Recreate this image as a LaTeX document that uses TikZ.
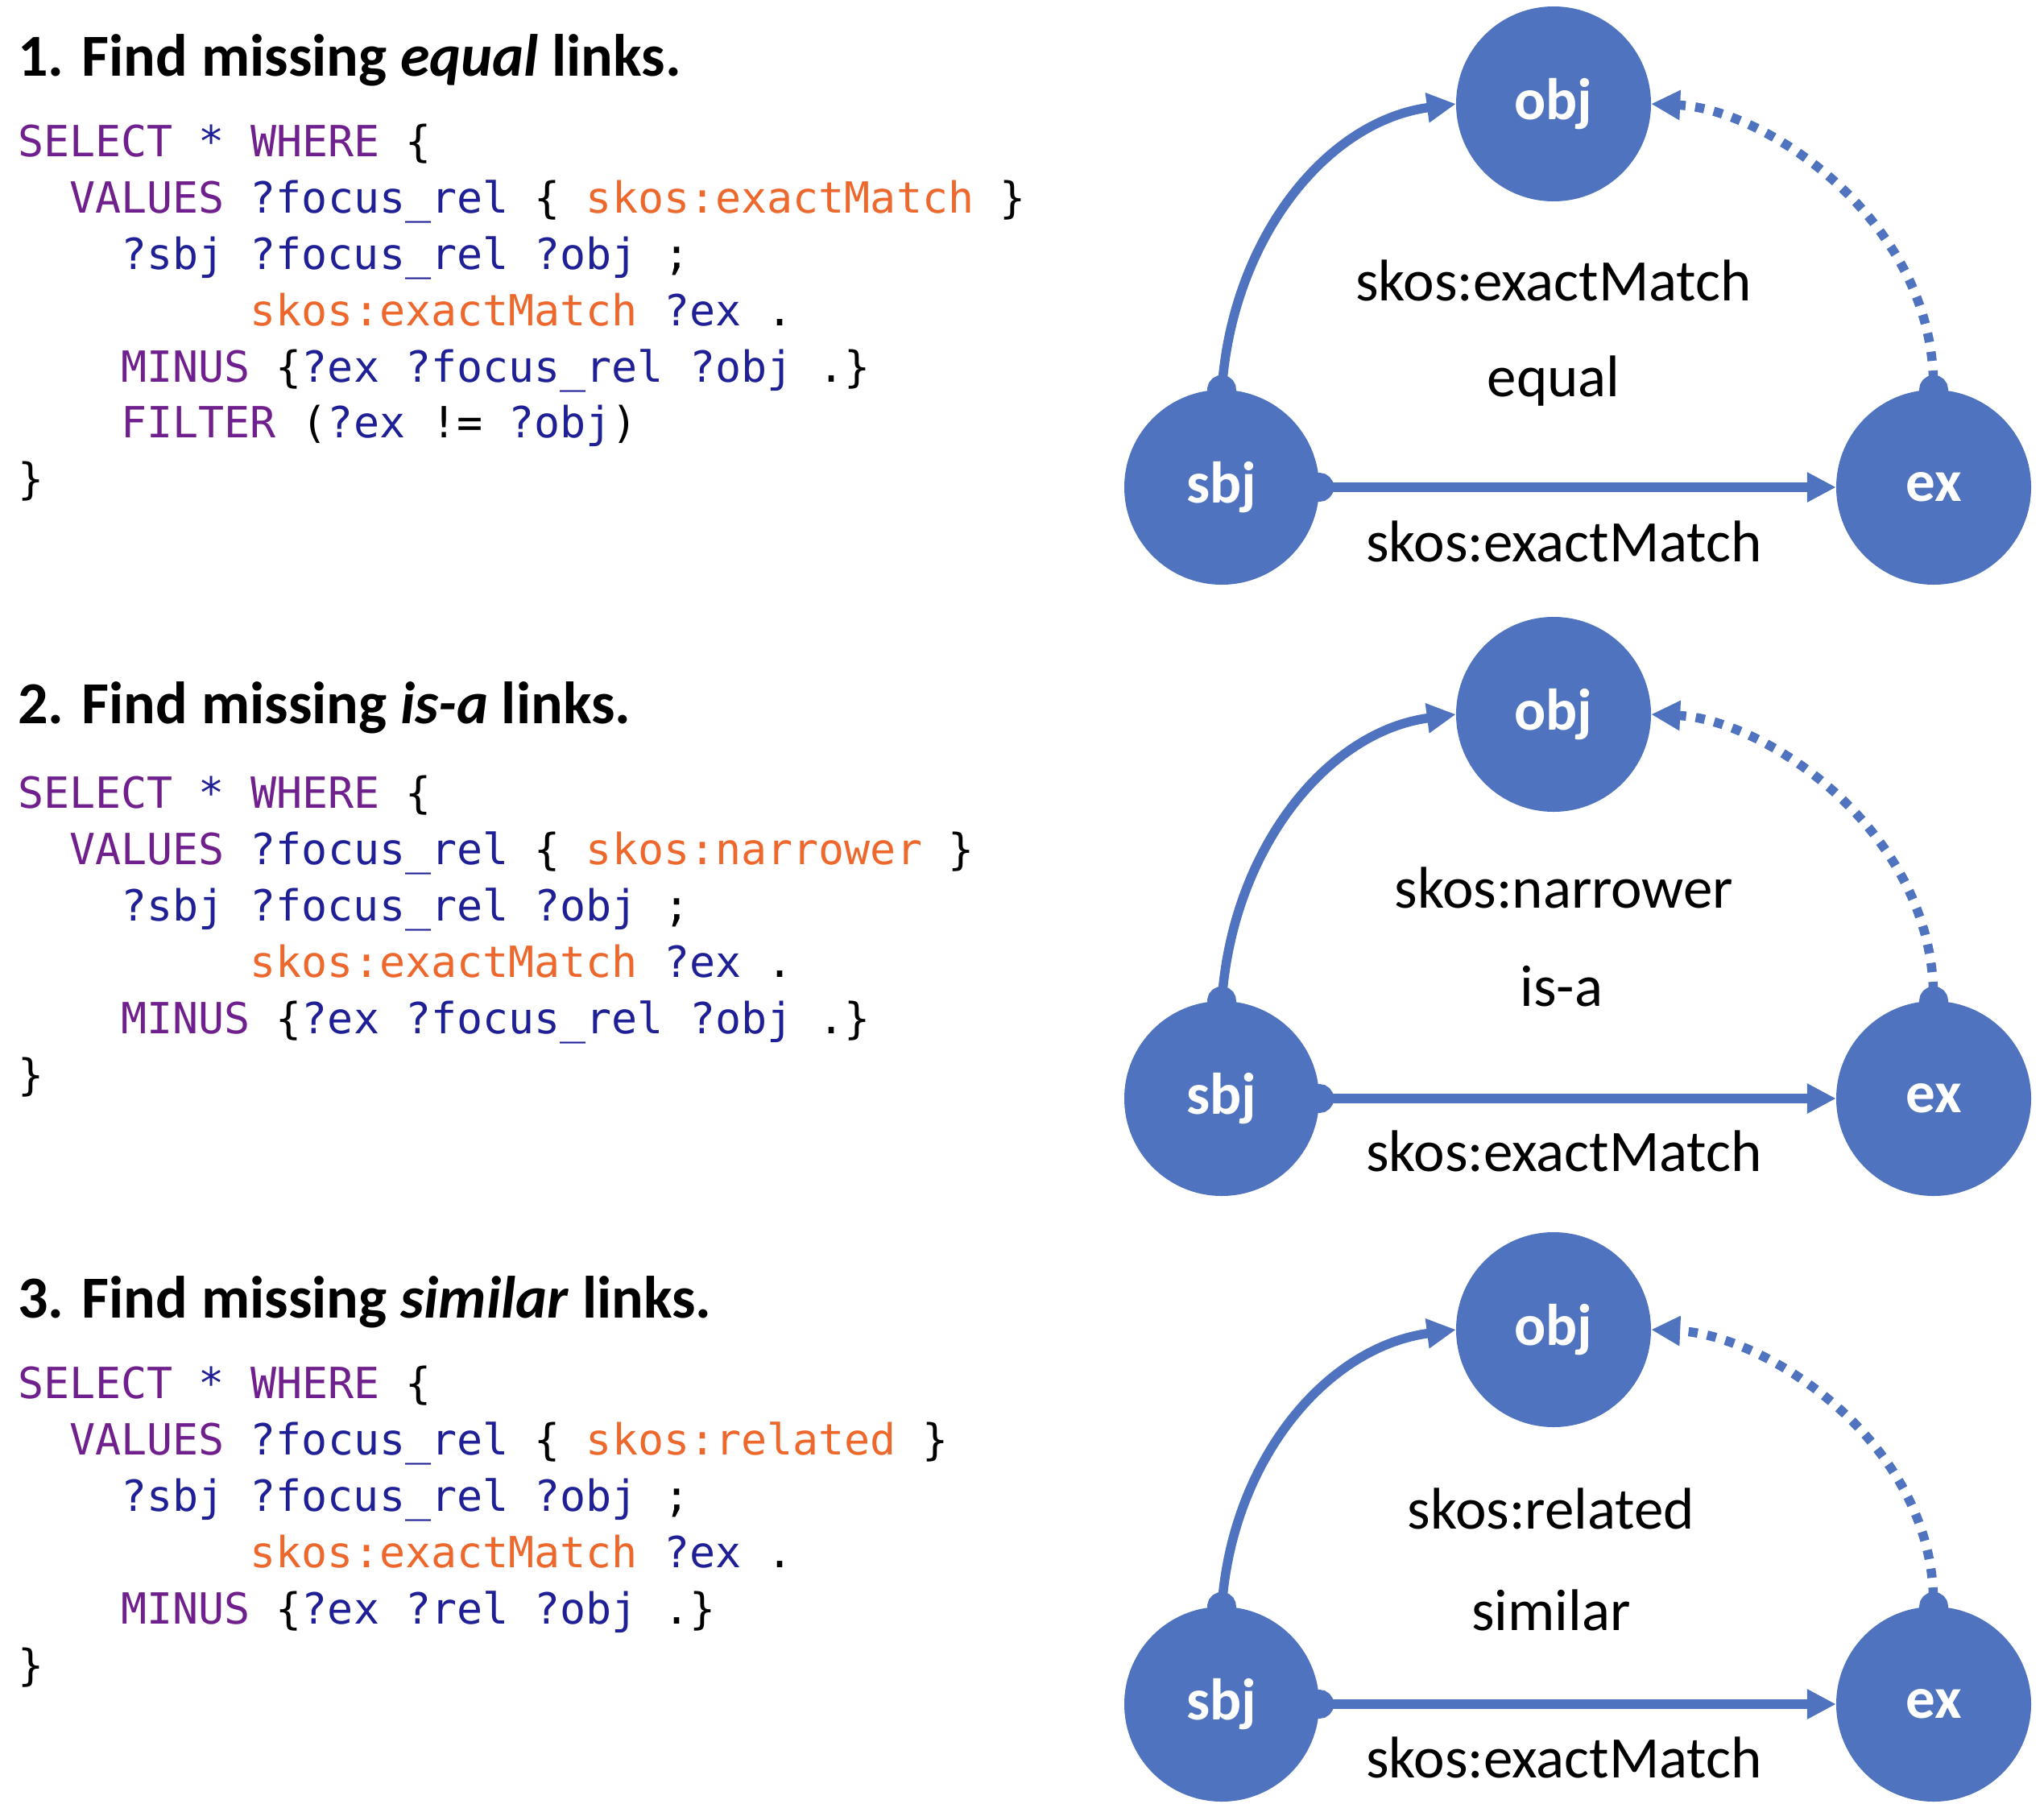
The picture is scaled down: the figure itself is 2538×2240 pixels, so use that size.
\documentclass[tikz,border=0pt]{standalone}
\usepackage{fontspec}
\setmainfont{Carlito}
\newfontfamily\codefont{DejaVu Sans Mono}
\usetikzlibrary{arrows.meta}

\definecolor{nodeblue}{RGB}{79,115,190}
\definecolor{kwpurple}{RGB}{112,32,140}
\definecolor{varnavy}{RGB}{32,32,150}
\definecolor{skosorange}{RGB}{237,104,45}

% SPARQL token colouring
\newcommand{\cKw}[1]{\textcolor{kwpurple}{#1}}
\newcommand{\cVar}[1]{\textcolor{varnavy}{#1}}
\newcommand{\cSk}[1]{\textcolor{skosorange}{#1}}

\tikzset{
  head/.style={anchor=base west, inner sep=0pt, font=\fontsize{74}{80}\selectfont\bfseries},
  codeline/.style={anchor=base west, inner sep=0pt, font=\codefont\fontsize{53.3}{60}\selectfont},
  ent/.style={circle, fill=nodeblue, minimum size=242pt, inner sep=0pt, text=white,
              font=\fontsize{73}{73}\selectfont\bfseries},
  lbl/.style={inner sep=0pt, text=black, font=\fontsize{73}{80}\selectfont},
  link/.style={draw=nodeblue, line width=11.5pt, shorten <=-18pt,
               {Circle[length=36pt]}-{Triangle[length=36pt,width=35pt]}},
  inferred/.style={link, dash pattern=on 11.5pt off 12pt}
}

\begin{document}
\begin{tikzpicture}[x=1pt,y=-1pt]
\useasboundingbox (0,0) rectangle (2538,2240);

% ---------- query 1 ----------
\node[head] (h1) at (22,95) {1. Find missing \textit{equal} links.};
\node[codeline] (q1a) at (22,194)   {\cKw{SELECT} \cVar{*} \cKw{WHERE} \{};
\node[codeline] (q1b) at (86,264)   {\cKw{VALUES} \cVar{?focus\_rel} \{ \cSk{skos:exactMatch} \}};
\node[codeline] (q1c) at (150,334)  {\cVar{?sbj} \cVar{?focus\_rel} \cVar{?obj} ;};
\node[codeline] (q1d) at (310.5,404) {\cSk{skos:exactMatch} \cVar{?ex} .};
\node[codeline] (q1e) at (150,474)  {\cKw{MINUS} \{\cVar{?ex} \cVar{?focus\_rel} \cVar{?obj} .\}};
\node[codeline] (q1f) at (150,543)  {\cKw{FILTER} (\cVar{?ex} != \cVar{?obj})};
\node[codeline] (q1g) at (22,613)   {\}};

% ---------- query 2 ----------
\node[head] (h2) at (22,898) {2. Find missing \textit{is-a} links.};
\node[codeline] (q2a) at (22,1003)   {\cKw{SELECT} \cVar{*} \cKw{WHERE} \{};
\node[codeline] (q2b) at (86,1073)   {\cKw{VALUES} \cVar{?focus\_rel} \{ \cSk{skos:narrower} \}};
\node[codeline] (q2c) at (150,1143)  {\cVar{?sbj} \cVar{?focus\_rel} \cVar{?obj} ;};
\node[codeline] (q2d) at (310.5,1213) {\cSk{skos:exactMatch} \cVar{?ex} .};
\node[codeline] (q2e) at (150,1283)  {\cKw{MINUS} \{\cVar{?ex} \cVar{?focus\_rel} \cVar{?obj} .\}};
\node[codeline] (q2f) at (22,1353)   {\}};

% ---------- query 3 ----------
\node[head] (h3) at (22,1636) {3. Find missing \textit{similar} links.};
\node[codeline] (q3a) at (22,1736)   {\cKw{SELECT} \cVar{*} \cKw{WHERE} \{};
\node[codeline] (q3b) at (86,1806)   {\cKw{VALUES} \cVar{?focus\_rel} \{ \cSk{skos:related} \}};
\node[codeline] (q3c) at (150,1876)  {\cVar{?sbj} \cVar{?focus\_rel} \cVar{?obj} ;};
\node[codeline] (q3d) at (310.5,1946) {\cSk{skos:exactMatch} \cVar{?ex} .};
\node[codeline] (q3e) at (150,2016)  {\cKw{MINUS} \{\cVar{?ex} \cVar{?rel} \cVar{?obj} .\}};
\node[codeline] (q3f) at (22,2086)   {\}};

% ---------- graph 1 ----------
\node[ent] (obj1) at (1929,129) {obj};
\node[ent] (sbj1) at (1517,605) {sbj};
\node[ent] (ex1)  at (2401,605) {ex};
\node[lbl] (r1)  at (1929,348) {skos:exactMatch};
\node[lbl] (k1)  at (1929,473) {equal};
\node[lbl] (m1)  at (1942,672) {skos:exactMatch};
\draw[link] (sbj1.east) -- (ex1.west);
\draw[link] (sbj1.north) .. controls +(18,-194) and +(-158,21) .. (obj1.west);
\draw[inferred] (ex1.north) .. controls +(-6,-214) and +(140,6) .. (obj1.east);

% ---------- graph 2 ----------
\node[ent] (obj2) at (1929,887) {obj};
\node[ent] (sbj2) at (1517,1364) {sbj};
\node[ent] (ex2)  at (2401,1364) {ex};
\node[lbl] (r2)  at (1942,1102) {skos:narrower};
\node[lbl] (k2)  at (1939,1225) {is-a};
\node[lbl] (m2)  at (1942,1429) {skos:exactMatch};
\draw[link] (sbj2.east) -- (ex2.west);
\draw[link] (sbj2.north) .. controls +(18,-194) and +(-158,21) .. (obj2.west);
\draw[inferred] (ex2.north) .. controls +(-6,-214) and +(140,6) .. (obj2.east);

% ---------- graph 3 ----------
\node[ent] (obj3) at (1929,1651) {obj};
\node[ent] (sbj3) at (1517,2116) {sbj};
\node[ent] (ex3)  at (2401,2116) {ex};
\node[lbl] (r3)  at (1926,1873) {skos:related};
\node[lbl] (k3)  at (1926,1999) {similar};
\node[lbl] (m3)  at (1942,2182) {skos:exactMatch};
\draw[link] (sbj3.east) -- (ex3.west);
\draw[link] (sbj3.north) .. controls +(18,-188) and +(-158,21) .. (obj3.west);
\draw[inferred] (ex3.north) .. controls +(-6,-208) and +(140,6) .. (obj3.east);
\end{tikzpicture}
\end{document}
